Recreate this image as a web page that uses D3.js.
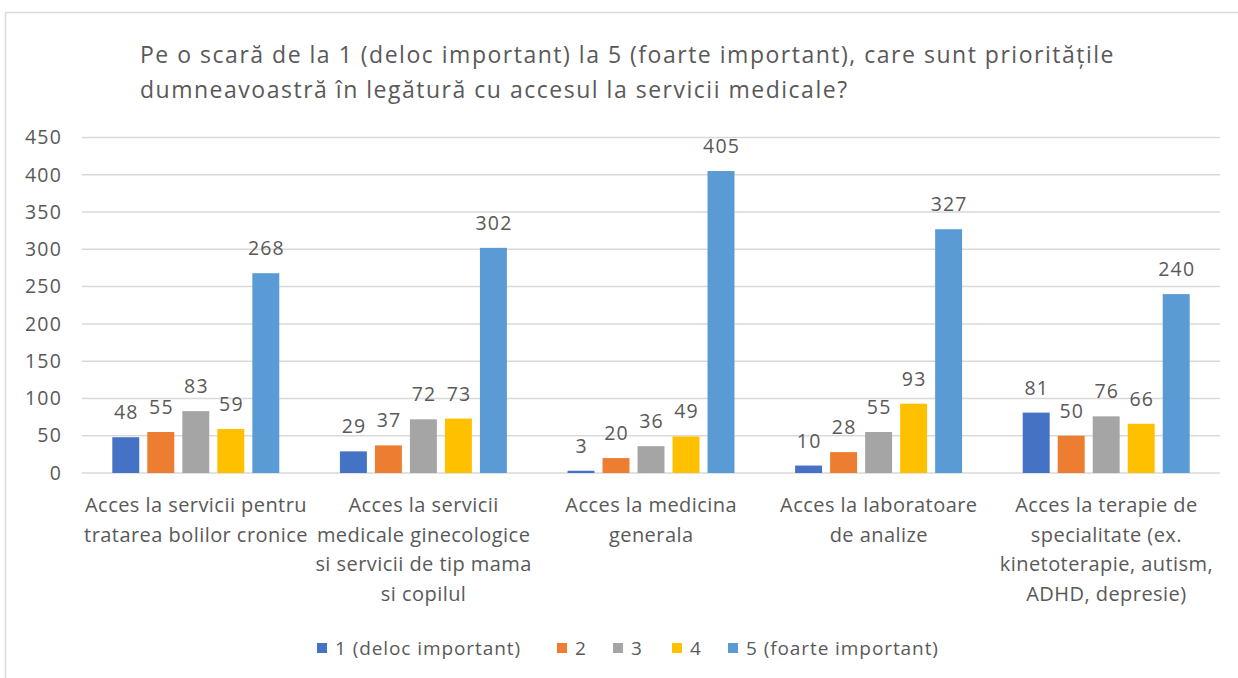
<!DOCTYPE html>
<html><head><meta charset="utf-8">
<script src="https://cdn.jsdelivr.net/npm/d3@7"></script>
<style>html,body{margin:0;padding:0;background:#fff;}svg{display:block;font-family:"Open Sans",sans-serif;}</style>
</head><body>
<svg id="c" width="1238" height="678"></svg>
<script>
const titleLines = ["Pe o scară de la 1 (deloc important) la 5 (foarte important), care sunt prioritățile",
  "dumneavoastră în legătură cu accesul la servicii medicale?"];
const categories = [
  ["Acces la servicii pentru", "tratarea bolilor cronice"],
  ["Acces la servicii", "medicale ginecologice", "si servicii de tip mama", "si copilul"],
  ["Acces la medicina", "generala"],
  ["Acces la laboratoare", "de analize"],
  ["Acces la terapie de", "specialitate (ex.", "kinetoterapie, autism,", "ADHD, depresie)"]
];
const seriesNames = ["1 (deloc important)", "2", "3", "4", "5 (foarte important)"];
const seriesColors = ["#4472C4", "#ED7D31", "#A5A5A5", "#FFC000", "#5B9BD5"];
const s1 = [48, 29, 3, 10, 81];
const s2 = [55, 37, 20, 28, 50];
const s3 = [83, 72, 36, 55, 76];
const s4 = [59, 73, 49, 93, 66];
const s5 = [268, 302, 405, 327, 240];
const yTicks = [0, 50, 100, 150, 200, 250, 300, 350, 400, 450];

const series = [s1, s2, s3, s4, s5];
const svg = d3.select("#c");
const textColor = "#595959";

function fitSpacing(size, sample, target) {
  const t = svg.append("text").attr("font-size", size).text(sample);
  const w = t.node().getComputedTextLength();
  t.remove();
  return Math.max(0, (target - w) / sample.length);
}
const lsTitle = fitSpacing(23, titleLines[0], 975);
const lsCat = fitSpacing(20, categories[0][0], 222);
const lsTick = fitSpacing(19.5, "450", 37);
const lsLbl = fitSpacing(19.5, "268", 37);
const lsLeg = fitSpacing(19, seriesNames[0], 186);

svg.append("rect").attr("x", 5.5).attr("y", 12.5).attr("width", 1300).attr("height", 700)
  .attr("fill", "#fff").attr("stroke", "#D9D9D9").attr("stroke-width", 1.5);

svg.append("g").selectAll("text").data(titleLines).join("text")
  .attr("x", 140).attr("y", (d, i) => 63 + i * 35)
  .attr("font-size", 23).attr("letter-spacing", lsTitle).attr("fill", textColor).text(d => d);

const pLeft = 82, pRight = 1220, pTop = 137.5, pBottom = 473;
const y = d3.scaleLinear().domain([0, 450]).range([pBottom, pTop]);
const x0 = d3.scaleBand().domain(d3.range(categories.length)).range([pLeft, pRight]).paddingInner(0).paddingOuter(0);
const x1 = d3.scaleBand().domain(d3.range(series.length)).range([0, x0.bandwidth()]).paddingInner(0.23).paddingOuter(0.866);

svg.append("g").selectAll("line").data(yTicks).join("line")
  .attr("x1", pLeft).attr("x2", pRight).attr("y1", d => y(d)).attr("y2", d => y(d))
  .attr("stroke", "#D9D9D9").attr("stroke-width", 1.5);

const yAxis = d3.axisLeft(y).tickValues(yTicks).tickSize(0).tickPadding(0);
const ga = svg.append("g").attr("transform", "translate(62,0)").call(yAxis);
ga.select(".domain").remove();
ga.selectAll("text").attr("font-size", 19.5).attr("letter-spacing", lsTick)
  .attr("fill", textColor).attr("font-family", "Open Sans");

const groups = svg.append("g").selectAll("g").data(categories).join("g")
  .attr("transform", (d, i) => `translate(${x0(i)},0)`);
groups.each(function(cat, ci) {
  const g = d3.select(this);
  const vals = series.map((s, si) => ({si, v: s[ci]}));
  g.selectAll("rect").data(vals).join("rect")
    .attr("x", d => x1(d.si)).attr("width", x1.bandwidth())
    .attr("y", d => y(d.v)).attr("height", d => y(0) - y(d.v))
    .attr("fill", d => seriesColors[d.si]);
  g.selectAll("text.lbl").data(vals).join("text").attr("class", "lbl")
    .attr("x", d => x1(d.si) + x1.bandwidth() / 2 + lsLbl / 2).attr("y", d => y(d.v) - 18)
    .attr("text-anchor", "middle").attr("font-size", 19.5).attr("letter-spacing", lsLbl)
    .attr("fill", textColor).text(d => d.v);
  g.append("g").selectAll("text").data(cat).join("text")
    .attr("x", x0.bandwidth() / 2 + lsCat / 2).attr("y", (d, i) => 512 + i * 29.5)
    .attr("text-anchor", "middle").attr("font-size", 20).attr("letter-spacing", lsCat)
    .attr("fill", textColor).text(d => d);
});

const legendX = [317, 557, 613, 672, 728];
const lg = svg.append("g").selectAll("g").data(seriesNames).join("g")
  .attr("transform", (d, i) => `translate(${legendX[i]},648)`);
lg.append("rect").attr("x", 0).attr("y", -5).attr("width", 10).attr("height", 10)
  .attr("fill", (d, i) => seriesColors[i]);
lg.append("text").attr("x", 18).attr("y", 0).attr("dy", "0.35em")
  .attr("font-size", 19).attr("letter-spacing", lsLeg).attr("fill", textColor).text(d => d);
</script>
</body></html>
